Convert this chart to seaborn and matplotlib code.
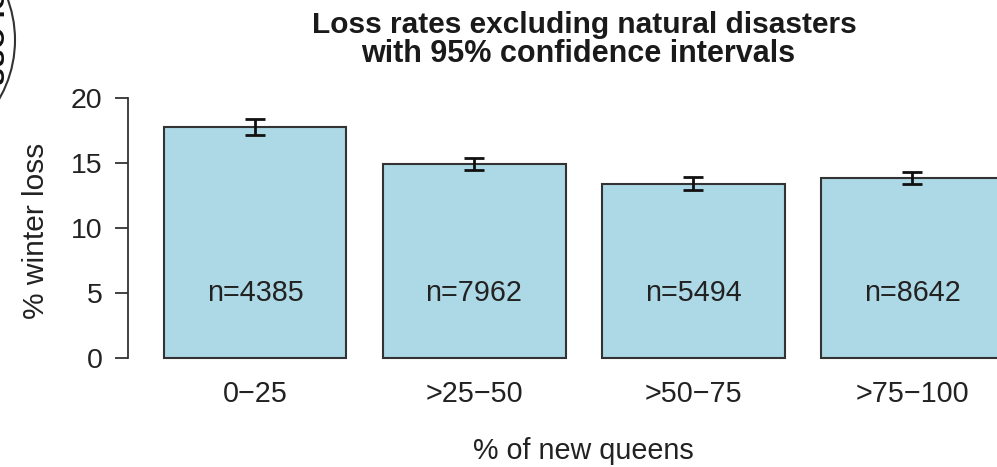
import matplotlib
matplotlib.use("Agg")
import matplotlib.pyplot as plt
from matplotlib.patches import Circle
import seaborn as sns

# data
groups = ["0\u221225", ">25\u221250", ">50\u221275", ">75\u2212100"]
loss = [17.75, 14.9, 13.4, 13.85]
ci_half = [0.6, 0.45, 0.5, 0.45]
n_colonies = [4385, 7962, 5494, 8642]

sns.set_style("white")
plt.rcParams["font.family"] = ["Liberation Sans", "DejaVu Sans"]

W, H = 997, 467
fig = plt.figure(figsize=(W / 100, H / 100), dpi=100)
ax = fig.add_axes([128 / W, (H - 368.4) / H, 909 / W, 280.8 / H])

sns.barplot(x=groups, y=loss, color="#add8e6", saturation=1, width=0.835,
            edgecolor="#333333", linewidth=1.5, errorbar=None, ax=ax)
ax.errorbar(range(len(groups)), loss, yerr=ci_half, fmt="none", ecolor="#111111",
            elinewidth=2, capsize=7.2, capthick=2)

for i, n in enumerate(n_colonies):
    ax.text(i, 5, f"n={n}", ha="center", va="center", fontsize=20.7, color="#222222")

ax.set_xlim(-0.58, 3.57)
ax.set_ylim(-0.8, 20.8)
ax.set_yticks([0, 5, 10, 15, 20])
ax.set_xlabel("")
ax.set_ylabel("")
for s in ["top", "right", "bottom"]:
    ax.spines[s].set_visible(False)
ax.spines["left"].set_bounds(0, 20)
ax.spines["left"].set_color("#333333")
ax.spines["left"].set_linewidth(1.3)
ax.tick_params(axis="y", length=9.5, width=1.3, color="#333333", pad=9,
               labelsize=20.5, labelcolor="#222222", left=True)
ax.tick_params(axis="x", length=0, pad=8, labelsize=20.7, labelcolor="#222222")
ax.patch.set_alpha(0)

fig.text(584 / W, 1 - 33 / H, "Loss rates excluding natural disasters", ha="center",
         va="baseline", fontsize=21.5, fontweight="bold", color="#1a1a1a")
fig.text(578 / W, 1 - 62 / H, "with 95% confidence intervals", ha="center",
         va="baseline", fontsize=22, fontweight="bold", color="#1a1a1a")
fig.text(36 / W, 1 - 231 / H, "% winter loss", rotation=90, ha="center", va="center",
         fontsize=21.5, color="#222222")
fig.text(583 / W, 1 - 459 / H, "% of new queens", ha="center", va="baseline",
         fontsize=20.7, color="#222222")

# partly visible logo in the top left corner
logo = Circle((-1.03, (H - 40) / 100), 1.18, transform=fig.dpi_scale_trans,
              fill=False, edgecolor="#333333", linewidth=1.5)
fig.add_artist(logo)
fig.text(-10 / W, 1 - 29 / H, "COLOSS", rotation=270, ha="center", va="center",
         fontsize=20, fontweight="bold", color="#111111")

fig.savefig("out.png", dpi=100)
